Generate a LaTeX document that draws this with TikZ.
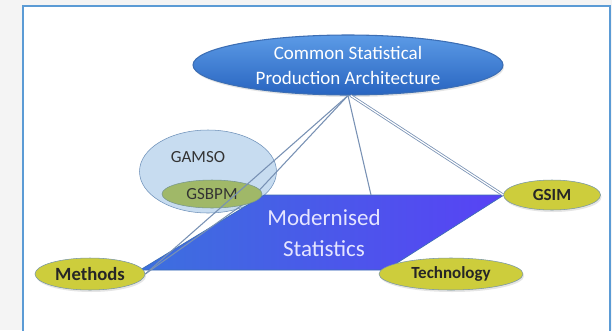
\documentclass[tikz,border=0pt]{standalone}
\usepackage{fontspec}
\setmainfont{Carlito}
\usepackage{tikz}
\usetikzlibrary{positioning}
\usetikzlibrary{shapes.geometric}
\usetikzlibrary{shadows}
\definecolor{frameColor}{RGB}{91,155,213}
\definecolor{pageColor}{RGB}{244,244,244}
\definecolor{linkColor}{RGB}{120,145,180}
\definecolor{archTop}{RGB}{92,155,230}
\definecolor{archBottom}{RGB}{40,100,192}
\definecolor{archBorder}{RGB}{60,110,180}
\definecolor{gamsoColor}{RGB}{190,214,238}
\definecolor{gamsoBorder}{RGB}{110,145,185}
\definecolor{gsbpmColor}{RGB}{160,184,104}
\definecolor{gsbpmBorder}{RGB}{120,150,140}
\definecolor{pillarColor}{RGB}{205,205,60}
\definecolor{pillarBorder}{RGB}{120,150,165}
\definecolor{modLeft}{RGB}{60,112,222}
\definecolor{modRight}{RGB}{88,66,245}

\begin{document}
\begin{tikzpicture}[x=0.75pt,y=-0.75pt]

          \tikzstyle{softShadow} = [drop shadow={shadow xshift=0.8pt, shadow yshift=-1.5pt, opacity=0.2}];
          \tikzstyle{archNode} = [ellipse, draw=archBorder, thick, top color=archTop, bottom color=archBottom, text=white, align=center, inner sep=0pt, softShadow, font=\fontsize{14.25}{18.75}\selectfont];
          \tikzstyle{gamsoNode} = [ellipse, draw=gamsoBorder, fill=gamsoColor, fill opacity=0.85, inner sep=0pt];
          \tikzstyle{gsbpmNode} = [ellipse, draw=gsbpmBorder, fill=gsbpmColor, text=black!80, inner sep=0pt, font=\fontsize{12.75}{15}\selectfont];
          \tikzstyle{pillarNode} = [ellipse, draw=pillarBorder, fill=pillarColor, text=black!85, inner sep=0pt, softShadow, font=\fontsize{12.75}{15}\selectfont\bfseries];
          \tikzstyle{labelNode} = [text=black!80, font=\fontsize{12.75}{15}\selectfont];
          \tikzstyle{modNode} = [text=white!90!blue, align=center, font=\fontsize{17.25}{23.25}\selectfont];

          \tikzstyle{linkEdge} = [linkColor, line width=0.8pt];
          \tikzstyle{doubleEdge} = [linkColor, line width=0.6pt, double=white, double distance=0.9pt];

          % page and frame
          \useasboundingbox (0,0) rectangle (612,330);
          \fill[pageColor] (0,0) rectangle (612,330);
          \draw[frameColor, line width=1.4pt, fill=white] (23,6) rectangle (610,340);

          \node[archNode, minimum width=232.5pt, minimum height=45pt] (csa) at (348,65) {Common Statistical\\Production Architecture};
          \node[gamsoNode, minimum width=102.75pt, minimum height=62.25pt] (gamso) at (208,171.5) {};
          \node[labelNode] (gamsolabel) at (198,157) {GAMSO};

          % the plane
          \coordinate (modbl) at (140,270);
          \coordinate (modbr) at (386,270);
          \coordinate (modtr) at (504,195);
          \coordinate (modtl) at (264,195);
          \coordinate (modtop) at (371,195);
          \coordinate (bend) at (252,198);
          \shade[left color=modLeft, right color=modRight, draw=archBorder, line width=0.5pt] (modbl) -- (modbr) -- (modtr) -- (modtl) -- cycle;
          \node[modNode] (mod) at (324,233) {Modernised\\Statistics};

          \node[pillarNode, minimum width=82.5pt, minimum height=24pt, font=\fontsize{14}{16}\selectfont\bfseries] (methods) at (90,274) {Methods};
          \node[pillarNode, minimum width=108pt, minimum height=24pt] (tech) at (451,274) {Technology};
          \node[pillarNode, minimum width=72.75pt, minimum height=22.5pt] (gsim) at (552,195) {GSIM};

          \draw[linkEdge] (csa.south) -- (bend);
          \draw[linkEdge] (bend) -- (methods.east);

          \node[gsbpmNode, minimum width=75pt, minimum height=21pt] (gsbpm) at (212,194) {GSBPM};

          \draw[linkEdge] (csa.south) -- (methods.east);
          \draw[linkEdge] (csa.south) -- (modtop);
          \draw[doubleEdge] ([xshift=2pt]csa.south) -- (gsim.west);
        \end{tikzpicture}
\end{document}
